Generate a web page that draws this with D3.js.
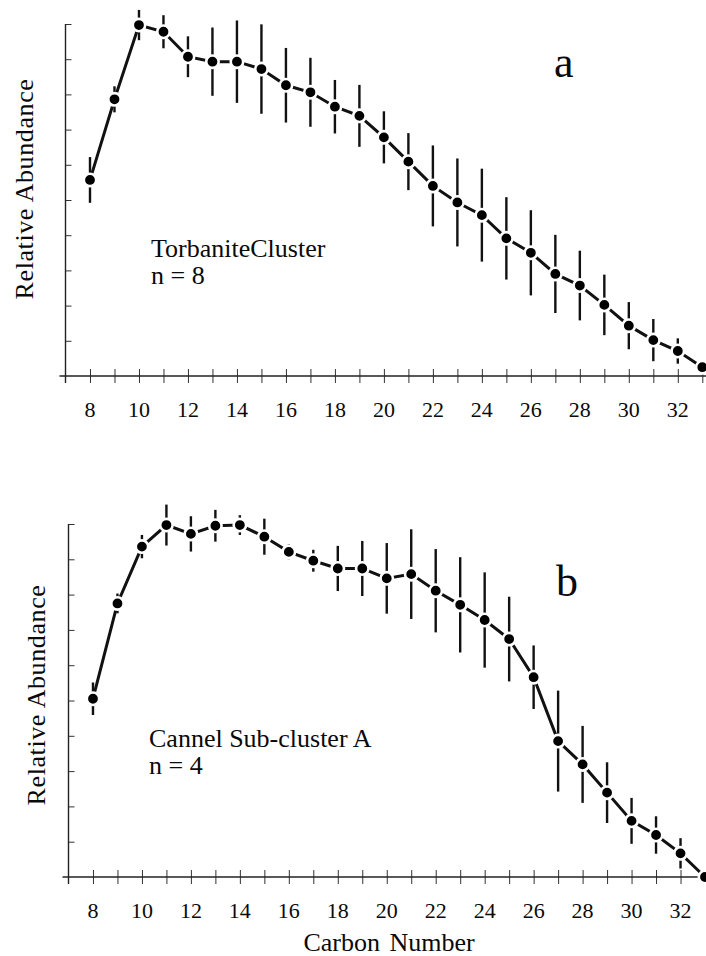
<!DOCTYPE html>
<html>
<head>
<meta charset="utf-8">
<script src="https://cdn.jsdelivr.net/npm/d3@7/dist/d3.min.js"></script>
<style>
  html, body { margin: 0; padding: 0; background: #fff; }
  svg { display: block; }
  text { font-family: "Liberation Serif", "Times New Roman", serif; fill: #0a0a0a; }
</style>
</head>
<body>
<svg id="chart" width="706" height="956"></svg>
<script>
// carbon numbers on the x axis
const carbon = [8, 9, 10, 11, 12, 13, 14, 15, 16, 17, 18, 19, 20, 21, 22, 23, 24, 25, 26, 27, 28, 29, 30, 31, 32, 33];
const xLabels = [8, 10, 12, 14, 16, 18, 20, 22, 24, 26, 28, 30, 32];
const yTicks = [1, 2, 3, 4, 5, 6, 7, 8, 9, 10];

// panel a: Torbanite cluster (mean, +/- error)
const torbMean = [5.57, 7.86, 9.97, 9.78, 9.07, 8.93, 8.93, 8.72, 8.26, 8.06, 7.65, 7.39, 6.78,
                  6.09, 5.40, 4.93, 4.57, 3.91, 3.50, 2.90, 2.57, 2.02, 1.43, 1.02, 0.71, 0.25];
const torbErr  = [0.65, 0.37, 0.43, 0.47, 0.58, 0.97, 1.17, 1.27, 1.06, 0.98, 0.76, 0.88, 0.74,
                  0.81, 1.15, 1.25, 1.32, 1.17, 1.21, 1.11, 0.99, 0.86, 0.67, 0.60, 0.36, 0.15];

// panel b: Cannel sub-cluster A
const cannelMean = [5.05, 7.75, 9.36, 9.97, 9.72, 9.95, 9.97, 9.64, 9.21, 8.96, 8.74, 8.74, 8.46,
                    8.58, 8.11, 7.71, 7.28, 6.74, 5.66, 3.85, 3.19, 2.39, 1.59, 1.19, 0.67, 0.0];
const cannelErr  = [0.46, 0.28, 0.33, 0.58, 0.50, 0.45, 0.28, 0.51, 0.21, 0.31, 0.64, 0.78, 1.00,
                    1.27, 1.18, 1.35, 1.35, 1.20, 0.90, 1.43, 1.09, 0.86, 0.65, 0.53, 0.43, 0.0];

const svg = d3.select('#chart');

// draws one panel; box = pixel frame of the axes
function panel(box, mean, err, opt) {
  const x = d3.scaleLinear().domain([7, 33]).range([box.x0, box.x1]);
  const y = d3.scaleLinear().domain([0, 10]).range([box.y0, box.y1]);
  const g = svg.append('g');
  const pts = carbon.map((c, i) => ({ c, m: mean[i], e: err[i] }));

  // x axis (ticks crossing the line)
  const xa = g.append('g').attr('transform', `translate(0,${box.y0})`)
    .call(d3.axisBottom(x).tickValues(carbon).tickSize(7).tickFormat(''));
  xa.select('.domain').remove();
  xa.selectAll('.tick line').attr('y1', -7).attr('stroke', '#333').attr('stroke-width', 1);
  g.append('line').attr('x1', box.x0 - 6).attr('x2', 706)
    .attr('y1', box.y0).attr('y2', box.y0).attr('stroke', '#222').attr('stroke-width', 1.4);

  g.selectAll('.xl').data(xLabels).join('text')
    .attr('x', d => x(d)).attr('y', box.y0 + 41)
    .attr('text-anchor', 'middle').attr('font-size', '22px').text(d => d);

  // y axis
  const ya = g.append('g').attr('transform', `translate(${box.x0},0)`)
    .call(d3.axisLeft(y).tickValues(yTicks).tickSize(7).tickFormat(''));
  ya.select('.domain').remove();
  ya.selectAll('.tick line').attr('x2', 6).attr('stroke', '#333').attr('stroke-width', 1);
  g.append('line').attr('x1', box.x0).attr('x2', box.x0)
    .attr('y1', y(10)).attr('y2', box.y0 + 7).attr('stroke', '#222').attr('stroke-width', 1.4);

  g.append('text')
    .attr('transform', `translate(${opt.ylx},${opt.yly}) rotate(-90)`)
    .attr('text-anchor', 'middle').attr('font-size', '26px').attr('letter-spacing', '0.6px')
    .text('Relative Abundance');

  // error bars
  g.selectAll('.eb').data(pts).join('line')
    .attr('x1', d => x(d.c)).attr('x2', d => x(d.c))
    .attr('y1', d => y(d.m - d.e)).attr('y2', d => y(d.m + d.e))
    .attr('stroke', '#111').attr('stroke-width', 2.4);

  // mean line
  g.append('path').datum(pts)
    .attr('d', d3.line().x(d => x(d.c)).y(d => y(d.m)))
    .attr('fill', 'none').attr('stroke', '#111').attr('stroke-width', 3);

  // dots with white halo
  g.selectAll('.dot').data(pts).join('circle')
    .attr('cx', d => x(d.c)).attr('cy', d => y(d.m)).attr('r', 6.2)
    .attr('fill', '#000').attr('stroke', '#fff').attr('stroke-width', 2.6);

  // panel texts
  g.append('text').attr('x', opt.lx).attr('y', opt.ly).attr('font-size', '26px').text(opt.name);
  g.append('text').attr('x', opt.lx).attr('y', opt.ly + 27).attr('font-size', '26px').text(opt.n);
  g.append('text').attr('x', opt.tagX).attr('y', opt.tagY).attr('font-size', '44px').text(opt.tag);
}

panel({ x0: 65.5, x1: 702.3, y0: 376, y1: 24 }, torbMean, torbErr,
  { ylx: 33, yly: 189, lx: 151, ly: 257, name: 'TorbaniteCluster', n: 'n = 8',
    tag: 'a', tagX: 554, tagY: 77 });

panel({ x0: 68.5, x1: 705, y0: 877, y1: 524 }, cannelMean, cannelErr,
  { ylx: 45, yly: 695, lx: 149, ly: 747, name: 'Cannel Sub-cluster A', n: 'n = 4',
    tag: 'b', tagX: 556, tagY: 596 });

svg.append('text').attr('x', 389).attr('y', 951).attr('text-anchor', 'middle')
  .attr('font-size', '26px').attr('word-spacing', '3px').text('Carbon Number');
</script>
</body>
</html>
